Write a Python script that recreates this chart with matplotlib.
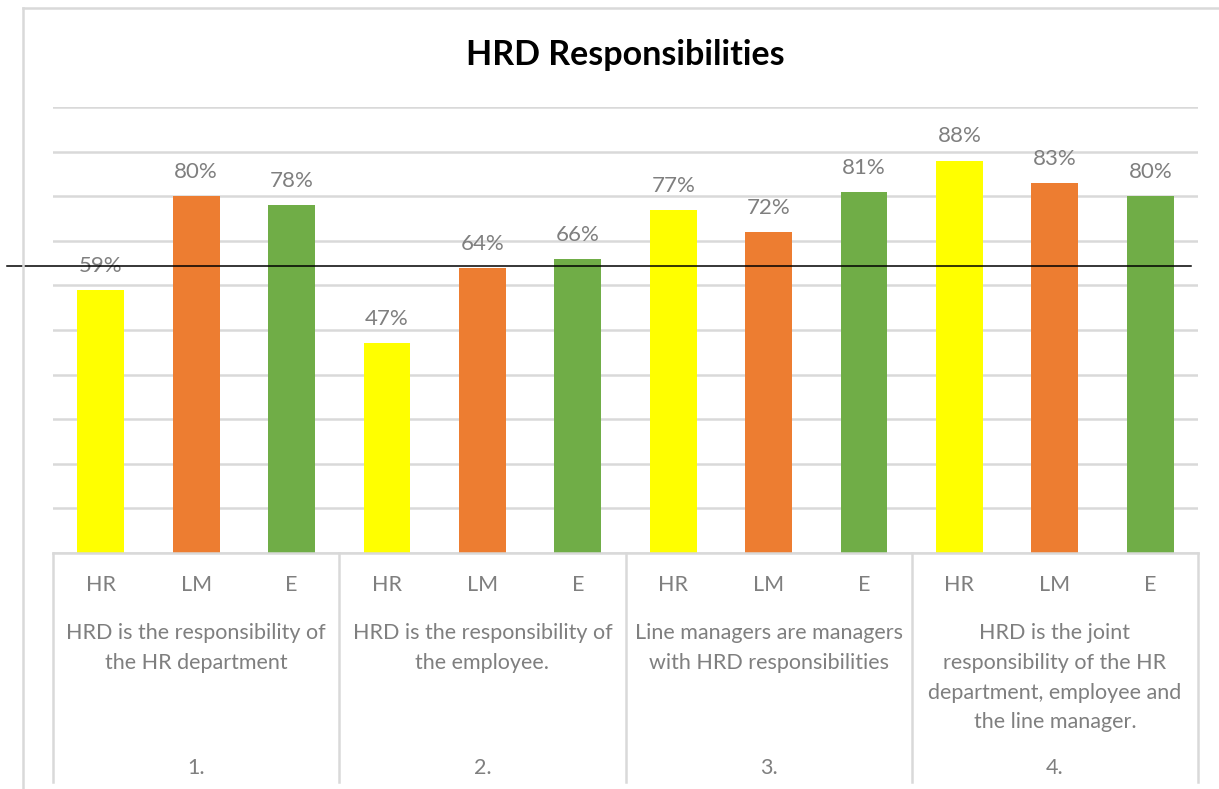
import numpy as np
import matplotlib
matplotlib.use("Agg")
import matplotlib.pyplot as plt
from matplotlib.lines import Line2D

### HRD responsibilities - grouped bars with a two level category axis

groups = ["1.", "2.", "3.", "4."]
descriptions = [
    "HRD is the responsibility of\nthe HR department",
    "HRD is the responsibility of\nthe employee.",
    "Line managers are managers\nwith HRD responsibilities",
    "HRD is the joint\nresponsibility of the HR\ndepartment, employee and\nthe line manager.",
]
series = ["HR", "LM", "E"]
hr = [59, 47, 77, 88]
lm = [80, 64, 72, 83]
e = [78, 66, 81, 80]
reference_line = 64.3

colors = {"HR": "#FFFF00", "LM": "#ED7D31", "E": "#70AD47"}
grey = "#7F7F7F"
light = "#D9D9D9"

plt.rcParams["font.family"] = ["Lato", "DejaVu Sans"]

W, H = 1219, 789
fig = plt.figure(figsize=(W / 100, H / 100), dpi=100)

# plot area in pixels: x 53..1198, y 107..553
ax = fig.add_axes([53 / W, 1 - 553 / H, (1198 - 53) / W, (553 - 107) / H])

values = {"HR": hr, "LM": lm, "E": e}
ns = len(series)
for gi in range(len(groups)):
    for si, s in enumerate(series):
        x = gi * ns + si
        v = values[s][gi]
        ax.bar(x, v, width=0.49, color=colors[s], zorder=2)
        ax.annotate(f"{v}%", (x, v), xytext=(0, 13), textcoords="offset points",
                    ha="center", va="baseline", fontsize=16, color=grey)

ax.set_xlim(-0.5, len(groups) * ns - 0.5)
ax.set_ylim(0, 100)
ax.set_yticks(np.arange(0, 101, 10))
ax.yaxis.grid(True, color=light, lw=1.8, zorder=0)
ax.set_axisbelow(True)
ax.tick_params(left=False, bottom=False, labelleft=False, labelbottom=False)
for sp in ["left", "right", "top"]:
    ax.spines[sp].set_visible(False)
ax.spines["bottom"].set_color(light)
ax.spines["bottom"].set_linewidth(1.8)

# black reference line, runs past the left edge of the chart
ax.axhline(reference_line, xmin=-0.04, xmax=0.994, color="black", lw=1.1,
           clip_on=False, zorder=3)

# category axis below the plot
tr = ax.get_xaxis_transform()
for b in np.arange(-0.5, len(groups) * ns, ns):
    ax.add_line(Line2D([b, b], [0, -0.513], transform=tr, color=light, lw=1.8,
                       clip_on=False))
for gi in range(len(groups)):
    for si, s in enumerate(series):
        ax.text(gi * ns + si, -0.072, s, transform=tr, ha="center", va="center",
                fontsize=15.5, color=grey)
    mid = gi * ns + (ns - 1) / 2
    ax.text(mid, -0.158, descriptions[gi], transform=tr, ha="center", va="top",
            fontsize=15.5, color=grey, linespacing=1.6)
    ax.text(mid, -0.481, groups[gi], transform=tr, ha="center", va="center",
            fontsize=15.5, color=grey)

# chart frame (only left and top edges are inside the picture)
fig.add_artist(Line2D([23 / W, 23 / W], [0, 1 - 8 / H], color=light, lw=1.8))
fig.add_artist(Line2D([23 / W, 1], [1 - 8 / H, 1 - 8 / H], color=light, lw=1.8))

fig.text(625 / W, 1 - 55 / H, "HRD Responsibilities", ha="center", va="center",
         fontsize=24.5, fontweight="bold", color="black")

fig.savefig("out.png", dpi=100)
